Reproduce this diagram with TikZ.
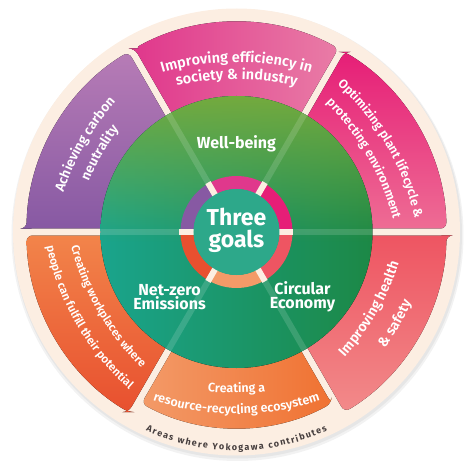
\documentclass[tikz,border=0pt]{standalone}
\usepackage{fontspec}
\setmainfont{Fira Sans}
\newfontfamily\labfont{Fira Sans SemiBold}
\usetikzlibrary{calc,decorations.text,fadings}

\definecolor{cream}{HTML}{FCEEE2}
\definecolor{pinkL}{HTML}{E0388C}
\definecolor{pinkR}{HTML}{E97CA6}
\definecolor{purpleT}{HTML}{B77CB6}
\definecolor{purpleB}{HTML}{8759A3}
\definecolor{magT}{HTML}{E61E77}
\definecolor{magB}{HTML}{EE6C94}
\definecolor{coralT}{HTML}{EE5562}
\definecolor{coralB}{HTML}{F28A8A}
\definecolor{orangeL}{HTML}{F39A68}
\definecolor{orangeR}{HTML}{F07232}
\definecolor{redT}{HTML}{F2844A}
\definecolor{redB}{HTML}{E8502F}
\definecolor{tealG}{HTML}{1AA48C}
\definecolor{darkG}{HTML}{1C8846}
\definecolor{oliveG}{HTML}{74AA3E}
\definecolor{coreteal}{HTML}{2DA88A}
\definecolor{areagray}{HTML}{463E3E}

\tikzfading[name=wellfade, top color=transparent!0, bottom color=transparent!100]

\tikzset{
  goal/.style={white, font=\bfseries\fontsize{16}{13.5}\selectfont, align=center},
  wellline/.style={white, opacity=0.14, line width=6},
  gapline/.style={cream, line width=6},
}

\newcommand\segment[4]{%
  \fill[#4, rounded corners=6pt]
    ($({#1}:100)+({#1+90}:3.5)$) -- ($({#1}:{#3*cos(asin(3.5/#3))})+({#1+90}:3.5)$)
    arc[start angle={#1+asin(3.5/#3)}, end angle={#2-asin(3.5/#3)}, radius=#3]
    -- ($({#2}:{#3*cos(asin(3.5/#3))})+({#2-90}:3.5)$) -- ($({#2}:100)+({#2-90}:3.5)$) -- cycle;}
\newcommand\labelout[4]{%
  \path[decorate, decoration={text along path, text align=center,
      text={|\labfont\fontsize{#3}{#3}\selectfont\color{white}|#4}}]
    ({#1}:{#2-260}) ++({#1+30}:260) arc[start angle={#1+30}, end angle={#1-30}, radius=260];}
\newcommand\labelin[4]{%
  \path[decorate, decoration={text along path, text align=center,
      text={|\labfont\fontsize{#3}{#3}\selectfont\color{white}|#4}}]
    ({#1}:{#2-260}) ++({#1-30}:260) arc[start angle={#1-30}, end angle={#1+30}, radius=260];}

\begin{document}
\begin{tikzpicture}[x=1pt, y=1pt]
    \useasboundingbox (-236.5,-229) rectangle (227.5,232);

    \fill[black, opacity=0.05] (1,-3) circle[radius=226];
    \fill[black, opacity=0.05] (1,-2) circle[radius=224.5];
    \fill[cream] (0,0) circle[radius=223.5];

    \segment{60}{120}{210}{left color=pinkL, right color=pinkR}
    \segment{120}{180}{210}{top color=purpleT, bottom color=purpleB}
    \segment{0}{60}{210}{top color=magT, bottom color=magB}
    \segment{300}{360}{210}{top color=coralT, bottom color=coralB}
    \segment{240}{300}{196}{left color=orangeL, right color=orangeR}
    \segment{180}{240}{210}{top color=redT, bottom color=redB}

    \fill[left color=tealG, right color=darkG] (0,0) circle[radius=136];
    \begin{scope}
        \clip (0,0) circle[radius=136];
        \fill[oliveG, path fading=wellfade] (-136,-10) rectangle (136,136);
    \end{scope}
    \foreach \a in {0,60,...,300}
        \draw[wellline] (\a:56) -- (\a:136);

    \foreach \a/\c in {0/magT, 60/pinkL, 120/purpleB, 180/redB, 240/orangeL, 300/coralT}
        \fill[\c] (\a:43) -- (\a:56) arc[start angle=\a, end angle=\a+60, radius=56]
            -- (\a+60:43) arc[start angle=\a+60, end angle=\a, radius=43] -- cycle;
    \foreach \a in {0,60,...,300}
        \draw[gapline] (\a:42) -- (\a:57);
    \fill[coreteal] (0,0) circle[radius=43];

    \node[white, font=\bfseries\fontsize{23}{22}\selectfont, align=center] (core) at (0,2) {Three\\goals};
    \node[goal, anchor=base] (wellbeing) at (0,83) {Well-being};
    \node[goal] (netzero) at (-67,-65) {Net-zero\\Emissions};
    \node[goal] (circular) at (66,-65) {Circular\\Economy};

    \labelout{90}{170}{14.5}{Improving efficiency in}
    \labelout{90}{153}{14.5}{society {\&} industry}
    \labelout{150}{175}{13.5}{Achieving carbon}
    \labelout{150}{155}{13.5}{neutrality}
    \labelout{30}{173}{12.5}{Optimizing plant lifecycle {\&}}
    \labelout{30}{151}{12.5}{protecting environment}
    \labelin{330}{162}{14}{Improving health}
    \labelin{330}{188}{14}{{\&} safety}
    \labelin{270}{161}{12.5}{Creating a}
    \labelin{270}{182}{12.5}{resource-recycling ecosystem}
    \labelin{210}{160}{11.5}{Creating workplaces where}
    \labelin{210}{185}{11.5}{people can fulfill their potential}

    \path[decorate, decoration={text along path, text align=fit to path,
        text={|\bfseries\fontsize{9}{10}\selectfont\color{areagray}|Areas where Yokogawa contributes}}]
        (245.5:218.5) arc[start angle=245.5, end angle=294.5, radius=218.5];
\end{tikzpicture}
\end{document}
